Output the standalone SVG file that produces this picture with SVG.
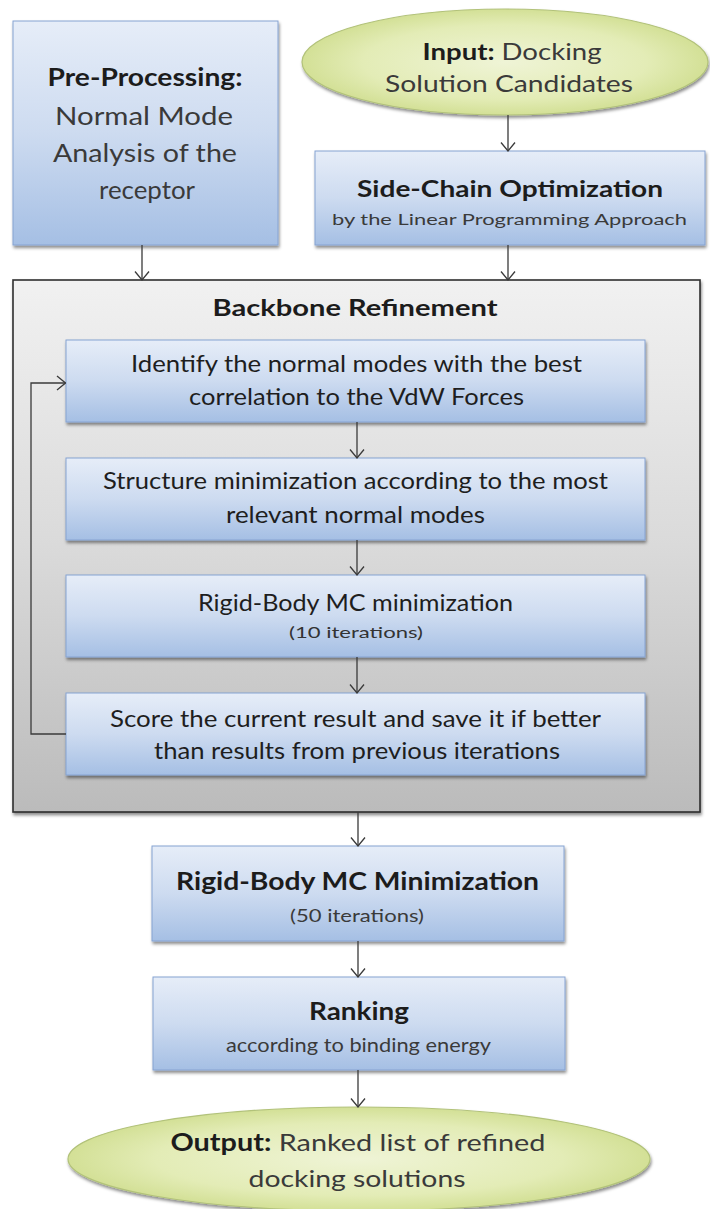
<svg xmlns="http://www.w3.org/2000/svg" width="710" height="1209" viewBox="0 0 710 1209">
<defs>
<linearGradient id="blue" x1="0" y1="0" x2="0" y2="1">
<stop offset="0" stop-color="#e6edf8"/>
<stop offset="0.5" stop-color="#cddbf0"/>
<stop offset="1" stop-color="#a5bfe4"/>
</linearGradient>
<linearGradient id="gray" x1="0" y1="0" x2="0" y2="1">
<stop offset="0" stop-color="#f1f1f1"/>
<stop offset="0.5" stop-color="#dadada"/>
<stop offset="1" stop-color="#bbbbbb"/>
</linearGradient>
<radialGradient id="green" cx="0.5" cy="0.5" r="0.5">
<stop offset="0" stop-color="#eff4d6"/>
<stop offset="0.7" stop-color="#e3ecb6"/>
<stop offset="1" stop-color="#d3e096"/>
</radialGradient>
<filter id="sh" x="-10%" y="-10%" width="120%" height="130%">
<feDropShadow dx="1" dy="2.5" stdDeviation="1.5" flood-color="#000" flood-opacity="0.45"/>
</filter>
<marker id="arr" viewBox="0 0 10 16" refX="9.5" refY="8" markerWidth="10" markerHeight="16" markerUnits="userSpaceOnUse" orient="auto">
<path d="M1,1 L9.5,8 L1,15" fill="none" stroke="#3a3a3a" stroke-width="1.3"/>
</marker>
</defs>
<style>
.box{fill:url(#blue);stroke:#86a3d2;stroke-width:1;filter:url(#sh)}
.bb{fill:url(#gray);stroke:#2e2e2e;stroke-width:1.6;filter:url(#sh)}
.ell{fill:url(#green);stroke:#b2c27a;stroke-width:1.2;filter:url(#sh)}
text{font-family:Lato,"Liberation Sans",sans-serif;text-anchor:middle;fill:#333}
.b{font-weight:bold;fill:#1c1c1c}
.r{fill:#3a3a3a}
.in{fill:#1e1e1e;font-size:23px}
.conn path,.conn line{fill:none;stroke:#3a3a3a;stroke-width:1.3;marker-end:url(#arr)}
</style>
<rect width="710" height="1209" fill="#fff"/>

<g id="preprocessing">
<rect class="box" x="13" y="21" width="265" height="224"/>
<text x="145" y="86" font-size="25" class="b" textLength="195" lengthAdjust="spacingAndGlyphs">Pre-Processing:</text>
<text x="144" y="125" font-size="25" class="r" textLength="178" lengthAdjust="spacingAndGlyphs">Normal Mode</text>
<text x="145" y="162" font-size="25" class="r" textLength="184" lengthAdjust="spacingAndGlyphs">Analysis of the</text>
<text x="147" y="199" font-size="25" class="r" textLength="96" lengthAdjust="spacingAndGlyphs">receptor</text>
</g>

<g id="input">
<ellipse class="ell" cx="505" cy="62" rx="203" ry="53"/>
<text x="512" y="60" font-size="23" textLength="179" lengthAdjust="spacingAndGlyphs"><tspan class="b">Input:</tspan><tspan class="r"> Docking</tspan></text>
<text x="509" y="92" font-size="23" class="r" textLength="248" lengthAdjust="spacingAndGlyphs">Solution Candidates</text>
</g>

<g id="sidechain">
<rect class="box" x="315" y="151" width="390" height="94"/>
<text x="510" y="197" font-size="23" class="b" textLength="306" lengthAdjust="spacingAndGlyphs">Side-Chain Optimization</text>
<text x="509.5" y="225" font-size="16" class="r" textLength="355" lengthAdjust="spacingAndGlyphs">by the Linear Programming Approach</text>
</g>

<g id="backbone">
<rect class="bb" x="13" y="280" width="687" height="532"/>
<text x="355" y="316" font-size="22" class="b" textLength="285" lengthAdjust="spacingAndGlyphs">Backbone Refinement</text>
</g>

<g id="identify">
<rect class="box" x="66" y="340" width="579" height="82"/>
<text x="356.5" y="372" class="in" textLength="451" lengthAdjust="spacingAndGlyphs">Identify the normal modes with the best</text>
<text x="356.5" y="405" class="in" textLength="335" lengthAdjust="spacingAndGlyphs">correlation to the VdW Forces</text>
</g>

<g id="structure">
<rect class="box" x="66" y="458" width="579" height="82"/>
<text x="355.5" y="489" class="in" textLength="505" lengthAdjust="spacingAndGlyphs">Structure minimization according to the most</text>
<text x="355.5" y="523" class="in" textLength="259" lengthAdjust="spacingAndGlyphs">relevant normal modes</text>
</g>

<g id="rigid10">
<rect class="box" x="66" y="575" width="579" height="82"/>
<text x="355.5" y="611" class="in" textLength="315" lengthAdjust="spacingAndGlyphs">Rigid-Body MC minimization</text>
<text x="356" y="638" font-size="15" fill="#222" textLength="134" lengthAdjust="spacingAndGlyphs">(10 iterations)</text>
</g>

<g id="score">
<rect class="box" x="66" y="693" width="579" height="82"/>
<text x="355.5" y="727" class="in" textLength="491" lengthAdjust="spacingAndGlyphs">Score the current result and save it if  better</text>
<text x="357" y="759" class="in" textLength="406" lengthAdjust="spacingAndGlyphs">than results from previous iterations</text>
</g>

<g id="rigid50">
<rect class="box" x="152" y="846" width="412" height="95"/>
<text x="357.5" y="890" font-size="25" class="b" textLength="363" lengthAdjust="spacingAndGlyphs">Rigid-Body MC Minimization</text>
<text x="357" y="922" font-size="17" class="r" textLength="134" lengthAdjust="spacingAndGlyphs">(50 iterations)</text>
</g>

<g id="ranking">
<rect class="box" x="153" y="977" width="412" height="93"/>
<text x="359" y="1020" font-size="24" class="b" textLength="100" lengthAdjust="spacingAndGlyphs">Ranking</text>
<text x="358.5" y="1052" font-size="19" class="r" textLength="265" lengthAdjust="spacingAndGlyphs">according to binding energy</text>
</g>

<g id="output">
<ellipse class="ell" cx="359" cy="1159" rx="291" ry="52"/>
<text x="358" y="1151" font-size="24" textLength="375" lengthAdjust="spacingAndGlyphs"><tspan class="b">Output:</tspan><tspan class="r"> Ranked list of refined</tspan></text>
<text x="357" y="1187" font-size="24" class="r" textLength="217" lengthAdjust="spacingAndGlyphs">docking solutions</text>
</g>

<g id="connectors" class="conn">
<line x1="142" y1="245" x2="142" y2="280"/>
<line x1="508" y1="115" x2="508" y2="151"/>
<line x1="508" y1="245" x2="508" y2="280"/>
<line x1="357" y1="422" x2="357" y2="458"/>
<line x1="357" y1="540" x2="357" y2="575"/>
<line x1="357" y1="657" x2="357" y2="693"/>
<path d="M66,734 H31 V383 H65.5"/>
<line x1="358" y1="812" x2="358" y2="846"/>
<line x1="358" y1="941" x2="358" y2="977"/>
<line x1="358" y1="1070" x2="358" y2="1107"/>
</g>
</svg>
